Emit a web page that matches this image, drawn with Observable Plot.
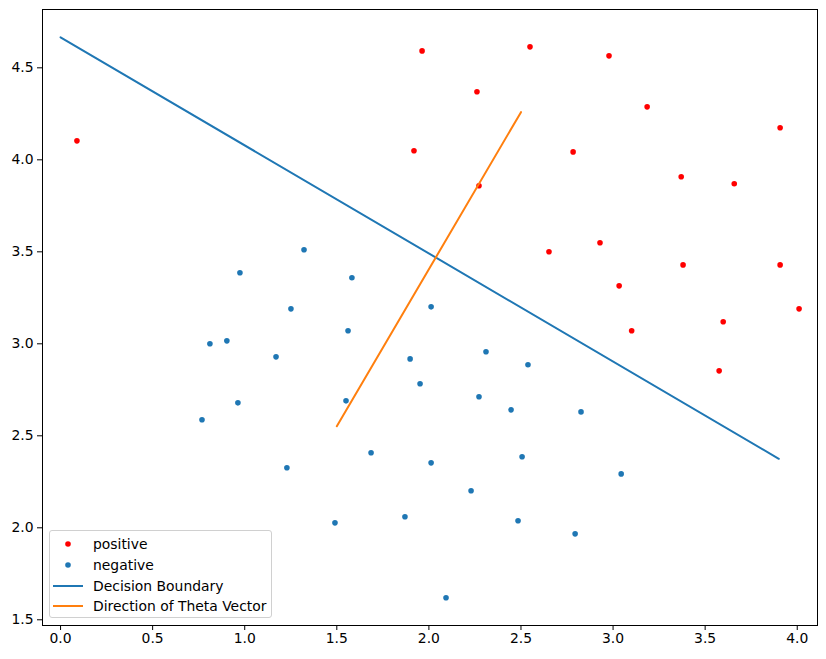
<!DOCTYPE html>
<html>
<head>
<meta charset="utf-8">
<script src="https://cdn.jsdelivr.net/npm/d3@7"></script>
<script src="https://cdn.jsdelivr.net/npm/@observablehq/plot@0.6"></script>
<style>
  html, body { margin: 0; padding: 0; background: #fff; }
  #wrap { position: relative; width: 826px; height: 659px; font-family: "DejaVu Sans", sans-serif; }
  #legend { position: absolute; left: 49px; top: 530px; width: 221px; height: 86px;
    border: 1px solid #d0d0d0; border-radius: 3px; background: rgba(255,255,255,0.8);
    font-size: 13.9px; color: #000; box-sizing: content-box; }
  .row { position: absolute; left: 0; height: 20px; display: flex; align-items: center; }
  .sym { width: 40px; padding-left: 3px; display: flex; justify-content: flex-start; align-items: center; }
  .lbl { white-space: nowrap; }
</style>
</head>
<body>
<div id="wrap"></div>
<script>
// Positive class points
const posX = [0.089, 1.919, 1.963, 2.549, 2.978, 2.261, 3.185, 3.907, 2.783, 3.370, 3.658, 2.272, 2.652, 2.929, 3.380, 3.907, 3.033, 4.010, 3.598, 3.101, 3.576];
const posY = [4.103, 4.049, 4.592, 4.614, 4.565, 4.370, 4.288, 4.174, 4.043, 3.908, 3.870, 3.859, 3.500, 3.549, 3.429, 3.429, 3.315, 3.190, 3.120, 3.071, 2.853];
// Negative class points
const negX = [0.974, 1.322, 1.582, 1.251, 0.811, 0.903, 1.170, 1.561, 0.963, 0.768, 1.550, 1.898, 1.686, 1.229, 1.490, 1.870, 2.012, 1.952, 2.310, 2.538, 2.272, 2.446, 2.826, 2.012, 2.506, 3.044, 2.229, 2.484, 2.794, 2.093];
const negY = [3.386, 3.511, 3.359, 3.190, 3.000, 3.016, 2.929, 3.071, 2.679, 2.587, 2.690, 2.918, 2.408, 2.326, 2.027, 2.060, 3.201, 2.783, 2.957, 2.886, 2.712, 2.641, 2.630, 2.353, 2.386, 2.293, 2.201, 2.038, 1.967, 1.620];
// Decision boundary endpoints
const boundaryX = [0.0, 3.9];
const boundaryY = [4.666, 2.375];
// Theta vector direction endpoints
const thetaX = [1.5, 2.5];
const thetaY = [2.552, 4.259];
// Tick values
const xTicks = [0.0, 0.5, 1.0, 1.5, 2.0, 2.5, 3.0, 3.5, 4.0];
const yTicks = [1.5, 2.0, 2.5, 3.0, 3.5, 4.0, 4.5];
const legendLabels = ["positive", "negative", "Decision Boundary", "Direction of Theta Vector"];

const pos = posX.map((x, i) => ({x, y: posY[i]}));
const neg = negX.map((x, i) => ({x, y: negY[i]}));
const boundary = boundaryX.map((x, i) => ({x, y: boundaryY[i]}));
const theta = thetaX.map((x, i) => ({x, y: thetaY[i]}));

const RED = "#ff0000", BLUE = "#1f77b4", ORANGE = "#ff7f0e";

const chart = Plot.plot({
  width: 826,
  height: 659,
  marginLeft: 42,
  marginRight: 9,
  marginTop: 9,
  marginBottom: 34,
  style: { fontFamily: "DejaVu Sans, sans-serif", fontSize: "13.9px", color: "#000", background: "#fff" },
  x: { domain: [-0.098, 4.11] },
  y: { domain: [1.469, 4.817] },
  marks: [
    Plot.dot(pos, {x: "x", y: "y", r: 2.8, fill: RED}),
    Plot.dot(neg, {x: "x", y: "y", r: 2.8, fill: BLUE}),
    Plot.line(boundary, {x: "x", y: "y", stroke: BLUE, strokeWidth: 2}),
    Plot.line(theta, {x: "x", y: "y", stroke: ORANGE, strokeWidth: 2}),
    Plot.axisX({ticks: xTicks, tickFormat: d => d.toFixed(1), tickSize: 5, tickPadding: 3, label: null, stroke: "#000", strokeWidth: 1}),
    Plot.axisY({ticks: yTicks, tickFormat: d => d.toFixed(1), tickSize: 5, tickPadding: 4, label: null, stroke: "#000", strokeWidth: 1}),
    Plot.frame({stroke: "#000", strokeWidth: 1})
  ]
});

const wrap = document.getElementById("wrap");
wrap.appendChild(chart);

// Legend overlay
const legend = document.createElement("div");
legend.id = "legend";
const kinds = [
  {type: "dot", color: RED},
  {type: "dot", color: BLUE},
  {type: "line", color: BLUE},
  {type: "line", color: ORANGE}
];
const rowTops = [3, 24, 45, 65];
legendLabels.forEach((lab, i) => {
  const row = document.createElement("div");
  row.className = "row";
  row.style.top = rowTops[i] + "px";
  const sym = document.createElement("div");
  sym.className = "sym";
  const k = kinds[i];
  sym.innerHTML = k.type === "dot"
    ? `<svg width="30" height="10"><circle cx="15" cy="5" r="2.8" fill="${k.color}"/></svg>`
    : `<svg width="30" height="10"><line x1="0" y1="5" x2="30" y2="5" stroke="${k.color}" stroke-width="2"/></svg>`;
  const t = document.createElement("span");
  t.className = "lbl";
  t.textContent = lab;
  row.appendChild(sym);
  row.appendChild(t);
  legend.appendChild(row);
});
wrap.appendChild(legend);
</script>
</body>
</html>
